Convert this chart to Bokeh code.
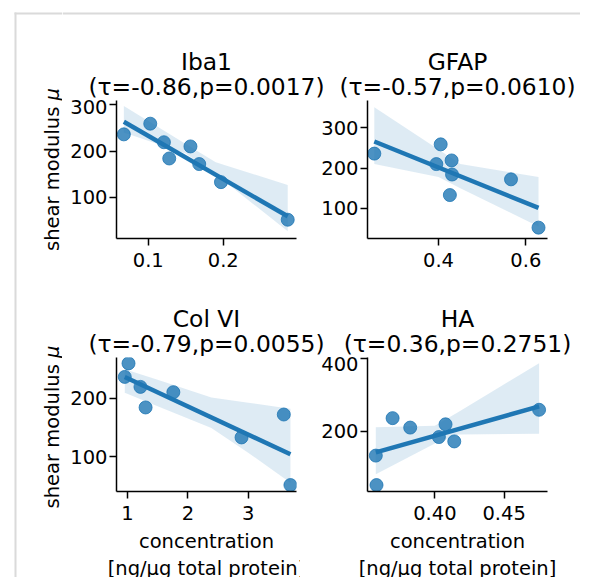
import numpy as np
from bokeh.plotting import figure
from bokeh.layouts import column, row
from bokeh.models import FixedTicker, Range1d
from bokeh.embed import file_html
from bokeh.resources import INLINE
from bokeh.core.properties import value

# ---------------- data ----------------
shear = [236, 259, 219, 184, 210, 172, 133, 52]          # shear modulus mu

conc_iba1 = [0.0675, 0.1027, 0.1209, 0.128, 0.1563, 0.168, 0.197, 0.286]
conc_gfap = [0.253, 0.405, 0.430, 0.431, 0.395, 0.566, 0.426, 0.629]
conc_colvi = [0.955, 1.017, 1.215, 1.30, 1.76, 3.59, 2.89, 3.70]
conc_ha = [0.3695, 0.4752, 0.4077, 0.4029, 0.3822, 0.414, 0.3574, 0.3579]

# bootstrap confidence bands
band_iba1_x = [0.0675, 0.15, 0.19, 0.286]
band_iba1_lo = [240, 195, 150, 27]
band_iba1_hi = [297, 215, 176, 127]

band_gfap_x = [0.253, 0.40, 0.45, 0.629]
band_gfap_lo = [210, 178, 150, 55]
band_gfap_hi = [351, 246, 210, 178]

band_colvi_x = [0.955, 1.5, 2.39, 3.0, 3.70]
band_colvi_lo = [209, 186, 149, 107, 56]
band_colvi_hi = [249, 231, 201, 192, 182]

band_ha_x = [0.3574, 0.40, 0.417, 0.4752]
band_ha_lo = [82, 166, 191, 193]
band_ha_hi = [211, 215, 253, 387]

titles = ["Iba1", "GFAP", "Col VI", "HA"]
stats = ["(\u03c4=-0.86,p=0.0017)", "(\u03c4=-0.57,p=0.0610)",
         "(\u03c4=-0.79,p=0.0055)", "(\u03c4=0.36,p=0.2751)"]

x_ticks_iba1 = [0.1, 0.2]
x_labels_iba1 = ["0.1", "0.2"]
x_ticks_gfap = [0.4, 0.6]
x_labels_gfap = ["0.4", "0.6"]
x_ticks_colvi = [1, 2, 3]
x_labels_colvi = ["1", "2", "3"]
x_ticks_ha = [0.40, 0.45]
x_labels_ha = ["0.40", "0.45"]

y_ticks_iba1 = [100, 200, 300]
y_ticks_gfap = [100, 200, 300]
y_ticks_colvi = [100, 200]
y_ticks_ha = [200, 400]

ylabel_text = "shear modulus"
ylabel_symbol = "\u03bc"
xlabel = "concentration\n[ng/\u03bcg total protein]"

# ---------------- style / layout ----------------
C = "#1f77b4"
FRAME_GRAY = "#dadada"
FONT = "DejaVu Sans"
TICK_PX = 19.5
TICK_FS = "19.5px"
TITLE_FS = "23.4px"
FRAME_W = 180
STRIP_W = 62
LEFT_W, RIGHT_W = 238, 280
LEFT_MBL, RIGHT_MBL = 54, 67
TOP_T_H, ROW1_H, BOT_T_H, ROW2_H = 99, 191, 66, 227
TOTAL_H = TOP_T_H + ROW1_H + BOT_T_H + ROW2_H
BORDER_TOP = 13      # page y of the grey frame's top line
BORDER_LEFT = 15     # page x of the grey frame's left line


def panel(xs, bx, blo, bhi, xr, yr, xt, xtl, yt, w, mbl, h, mbt, mbb, xlab=None):
    p = figure(width=w, height=h, x_range=Range1d(*xr), y_range=Range1d(*yr),
               output_backend="svg", toolbar_location=None,
               min_border_left=mbl, min_border_right=w - mbl - FRAME_W,
               min_border_top=mbt, min_border_bottom=mbb)
    p.grid.visible = False
    p.outline_line_color = None
    p.scatter(xs, shear, size=13, fill_color=C, fill_alpha=0.8,
              line_color=C, line_alpha=0.8, line_width=1)
    p.varea(x=bx, y1=blo, y2=bhi, fill_color=C, fill_alpha=0.15)
    fit = np.polyfit(xs, shear, 1)
    xl = np.array([min(xs), max(xs)])
    p.line(xl, np.polyval(fit, xl), line_width=4.5, line_color=C)

    for ax in (p.xaxis[0], p.yaxis[0]):
        ax.axis_line_width = 1.5
        ax.axis_line_color = "black"
        ax.major_tick_line_width = 1.5
        ax.major_tick_line_color = "black"
        ax.major_tick_out = 7
        ax.major_tick_in = 0
        ax.minor_tick_line_color = None
        ax.major_label_text_font = FONT
        ax.major_label_text_font_size = TICK_FS
        ax.major_label_text_color = "black"
        ax.axis_label_text_font = FONT
        ax.axis_label_text_font_size = TICK_FS
        ax.axis_label_text_font_style = "normal"
        ax.axis_label_text_color = "black"
    p.xaxis.ticker = FixedTicker(ticks=xt)
    p.xaxis.major_label_overrides = {t: l for t, l in zip(xt, xtl)}
    p.xaxis.major_label_standoff = 7
    p.yaxis.ticker = FixedTicker(ticks=yt)
    p.yaxis.major_label_overrides = {t: str(t) for t in yt}
    p.yaxis.major_label_standoff = 2
    if xlab:
        p.xaxis.axis_label = xlab
        p.xaxis.axis_label_standoff = 7
    return p


def blank(w, h):
    f = figure(width=w, height=h, x_range=Range1d(0, w), y_range=Range1d(0, h),
               output_backend="svg", toolbar_location=None,
               x_axis_type=None, y_axis_type=None, min_border=0)
    f.grid.visible = False
    f.outline_line_color = None
    return f


def title_fig(h, base1, base2, pair_a, pair_b, top_line=False):
    w = LEFT_W + RIGHT_W
    t = blank(w, h)
    if top_line:
        t.line([0, w], [h - BORDER_TOP, h - BORDER_TOP],
               line_color=FRAME_GRAY, line_width=2)
    cx = [LEFT_MBL + FRAME_W / 2, LEFT_W + RIGHT_MBL + FRAME_W / 2]
    t.text(x=cx + cx, y=[h - base1, h - base1, h - base2, h - base2],
           text=[pair_a[0], pair_b[0], pair_a[1], pair_b[1]],
           text_align="center", text_baseline="alphabetic",
           text_font=value(FONT), text_font_size=TITLE_FS, text_color="black")
    return t


def ylabel_strip():
    s = blank(STRIP_W, TOTAL_H)
    # grey frame lines (page decoration)
    s.line([BORDER_LEFT, BORDER_LEFT], [0, TOTAL_H - BORDER_TOP + 1],
           line_color=FRAME_GRAY, line_width=2)
    s.line([BORDER_LEFT - 1, STRIP_W], [TOTAL_H - BORDER_TOP, TOTAL_H - BORDER_TOP],
           line_color=FRAME_GRAY, line_width=2)
    # vertical centres of the two left-hand frames (from the bottom)
    c1 = TOTAL_H - (TOP_T_H + 1 + 138 / 2)
    c2 = TOTAL_H - (TOP_T_H + ROW1_H + BOT_T_H + 1 + 139 / 2)
    w_text = 7.40 * TICK_PX            # advance of "shear modulus"
    w_space = 0.318 * TICK_PX
    w_mu = 0.634 * TICK_PX
    total = w_text + w_space + w_mu
    base_x = 51.8
    starts = [c1 - total / 2, c2 - total / 2]
    s.text(x=[base_x, base_x], y=starts, text=[ylabel_text, ylabel_text],
           angle=np.pi / 2, text_align="left", text_baseline="alphabetic",
           text_font=value(FONT), text_font_size=TICK_FS, text_color="black")
    s.text(x=[base_x, base_x], y=[v + w_text + w_space for v in starts],
           text=[ylabel_symbol, ylabel_symbol],
           angle=np.pi / 2, text_align="left", text_baseline="alphabetic",
           text_font=value(FONT), text_font_size=TICK_FS,
           text_font_style="italic", text_color="black")
    return s


top_titles = title_fig(TOP_T_H, 61.7, 86.7, (titles[0], stats[0]),
                       (titles[1], stats[1]), top_line=True)
p1 = panel(conc_iba1, band_iba1_x, band_iba1_lo, band_iba1_hi,
           (0.0577, 0.0577 + FRAME_W / 750.0), (11.5, 309),
           x_ticks_iba1, x_labels_iba1, y_ticks_iba1,
           LEFT_W, LEFT_MBL, ROW1_H, 1, 52)
p2 = panel(conc_gfap, band_gfap_x, band_gfap_lo, band_gfap_hi,
           (0.2374, 0.2374 + FRAME_W / 436.7), (25, 368),
           x_ticks_gfap, x_labels_gfap, y_ticks_gfap,
           RIGHT_W, RIGHT_MBL, ROW1_H, 1, 52)
bot_titles = title_fig(BOT_T_H, 28.3, 53.5, (titles[2], stats[2]), (titles[3], stats[3]))
p3 = panel(conc_colvi, band_colvi_x, band_colvi_lo, band_colvi_hi,
           (0.818, 0.818 + FRAME_W / 60.35), (41, 269),
           x_ticks_colvi, x_labels_colvi, y_ticks_colvi,
           LEFT_W, LEFT_MBL, ROW2_H, 1, 87, xlab=xlabel)
p4 = panel(conc_ha, band_ha_x, band_ha_lo, band_ha_hi,
           (0.3514, 0.3514 + FRAME_W / 1386.0), (34.3, 402.7),
           x_ticks_ha, x_labels_ha, y_ticks_ha,
           RIGHT_W, RIGHT_MBL, ROW2_H, 1, 87, xlab=xlabel)

main = column(top_titles, row(p1, p2), bot_titles, row(p3, p4))
layout = row(ylabel_strip(), main)

open("out.html", "w").write(file_html(layout, INLINE))
